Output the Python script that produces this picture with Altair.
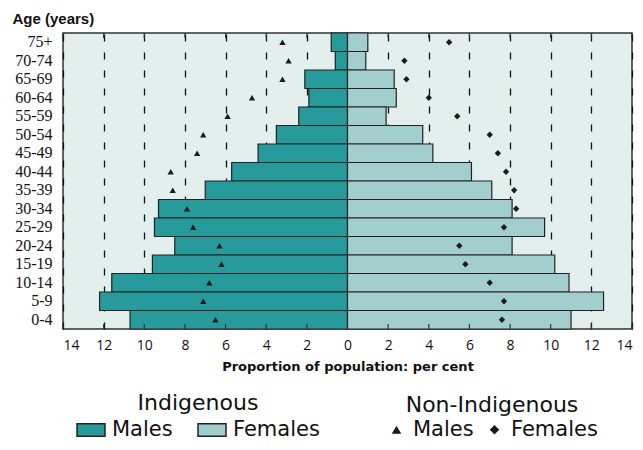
import altair as alt
import pandas as pd

ages = ["75+", "70-74", "65-69", "60-64", "55-59", "50-54", "45-49", "40-44",
        "35-39", "30-34", "25-29", "20-24", "15-19", "10-14", "5-9", "0-4"]
indig_males = [0.8, 0.6, 2.1, 1.9, 2.4, 3.5, 4.4, 5.7, 7.0, 9.3, 9.5, 8.5, 9.6, 11.6, 12.2, 10.7]
indig_females = [1.0, 0.9, 2.3, 2.4, 1.9, 3.7, 4.2, 6.1, 7.1, 8.1, 9.7, 8.1, 10.2, 10.9, 12.6, 11.0]
nonindig_males = [3.2, 2.9, 3.2, 4.7, 5.9, 7.1, 7.4, 8.7, 8.6, 7.9, 7.6, 6.3, 6.2, 6.8, 7.1, 6.5]
nonindig_females = [5.0, 2.8, 2.9, 4.0, 5.4, 7.0, 7.4, 7.8, 8.2, 8.3, 7.7, 5.5, 5.8, 7.0, 7.7, 7.6]
x_ticks = list(range(-14, 15, 2))

bar_rows = []
pt_rows = []
for a, m, f, nm, nf in zip(ages, indig_males, indig_females, nonindig_males, nonindig_females):
    bar_rows.append({"age": a, "Indigenous": "Males", "lo": -m, "hi": 0})
    bar_rows.append({"age": a, "Indigenous": "Females", "lo": 0, "hi": f})
    pt_rows.append({"age": a, "Non-Indigenous": "M", "x": -nm})
    pt_rows.append({"age": a, "Non-Indigenous": "F", "x": nf})
bars_df = pd.DataFrame(bar_rows)
pts_df = pd.DataFrame(pt_rows)
ticks_df = pd.DataFrame({"t": x_ticks})

xscale = alt.Scale(domain=[-14, 14], nice=False, zero=False)
xaxis = alt.Axis(values=x_ticks, labelExpr="abs(datum.value)", grid=True,
                 gridDash=[7, 11], gridColor="#111111", gridWidth=1.3,
                 ticks=False, domain=False, labelFont="Open Sans", labelFontSize=14,
                 labelColor="#111111", labelPadding=9,
                 title="Proportion of population: per cent",
                 titleFont="DejaVu Sans", titleFontSize=13, titleFontWeight="bold",
                 titleColor="#111111", titlePadding=8)
yscale = alt.Scale(paddingInner=0, paddingOuter=0)
yaxis = alt.Axis(ticks=False, domain=False, grid=False, labelFont="Liberation Serif",
                 labelFontSize=16, labelColor="#111111", labelPadding=11,
                 title="Age (years)", titleAngle=0, titleAlign="left", titleBaseline="middle",
                 titleX=-51, titleY=-15, titleFont="Liberation Sans", titleFontSize=15,
                 titleFontWeight="bold", titleColor="#111111")

y_enc = alt.Y("age:N", sort=ages, scale=yscale, axis=yaxis)

bars = alt.Chart(bars_df).mark_bar(stroke="#222222", strokeWidth=1.2).encode(
    x=alt.X("lo:Q", scale=xscale, axis=xaxis),
    x2="hi:Q",
    y=y_enc,
    fill=alt.Fill("Indigenous:N",
                  scale=alt.Scale(domain=["Males", "Females"], range=["#279a9b", "#a2cfcd"]),
                  legend=alt.Legend(orient="none", legendX=13, legendY=360, direction="horizontal",
                                    title="Indigenous", titleAnchor="middle",
                                    titleFont="DejaVu Sans", titleFontSize=22, titleFontWeight="normal",
                                    titleColor="#111111", titlePadding=0,
                                    labelFont="DejaVu Sans", labelFontSize=21, labelColor="#111111",
                                    symbolType="M-1,-0.45H1V0.45H-1Z", symbolSize=784,
                                    symbolStrokeColor="#222222", symbolStrokeWidth=1.5,
                                    labelOffset=6, columnPadding=22, labelLimit=200)),
)

points = alt.Chart(pts_df).mark_point(filled=True, color="#1a1a1a", opacity=1, size=40).encode(
    x=alt.X("x:Q", scale=xscale, axis=xaxis),
    y=y_enc,
    shape=alt.Shape("Non-Indigenous:N",
                    scale=alt.Scale(domain=["M", "F"], range=["triangle-up", "diamond"]),
                    legend=alt.Legend(orient="none", legendX=323, legendY=362, direction="horizontal",
                                      title="Non-Indigenous", titleAnchor="middle",
                                      titleFont="DejaVu Sans", titleFontSize=22, titleFontWeight="normal",
                                      titleColor="#111111", titlePadding=2,
                                      labelExpr="datum.label == 'M' ? 'Males' : 'Females'",
                                      labelFont="DejaVu Sans", labelFontSize=21, labelColor="#111111",
                                      symbolSize=90, symbolFillColor="#1a1a1a",
                                      symbolStrokeColor="#1a1a1a",
                                      labelOffset=6, columnPadding=10, labelLimit=200)),
)

top_ticks = alt.Chart(ticks_df).mark_rule(color="#333333", strokeWidth=1.2).encode(
    x=alt.X("t:Q", scale=xscale, axis=xaxis),
    y=alt.value(0), y2=alt.value(5),
)
bottom_ticks = alt.Chart(ticks_df).mark_rule(color="#333333", strokeWidth=1.2).encode(
    x=alt.X("t:Q", scale=xscale, axis=xaxis),
    y=alt.value(291), y2=alt.value(296),
)

chart = alt.layer(bars, points, top_ticks, bottom_ticks).properties(
    width=569, height=296,
    autosize=alt.AutoSizeParams(type="none"),
    padding={"left": 55, "top": 25, "right": 3, "bottom": 113},
    background="white",
).configure_view(
    fill="#e2efed", stroke="#333333", strokeWidth=1.5
)

chart.save("out.html", embed_options={"renderer": "svg", "actions": False})
